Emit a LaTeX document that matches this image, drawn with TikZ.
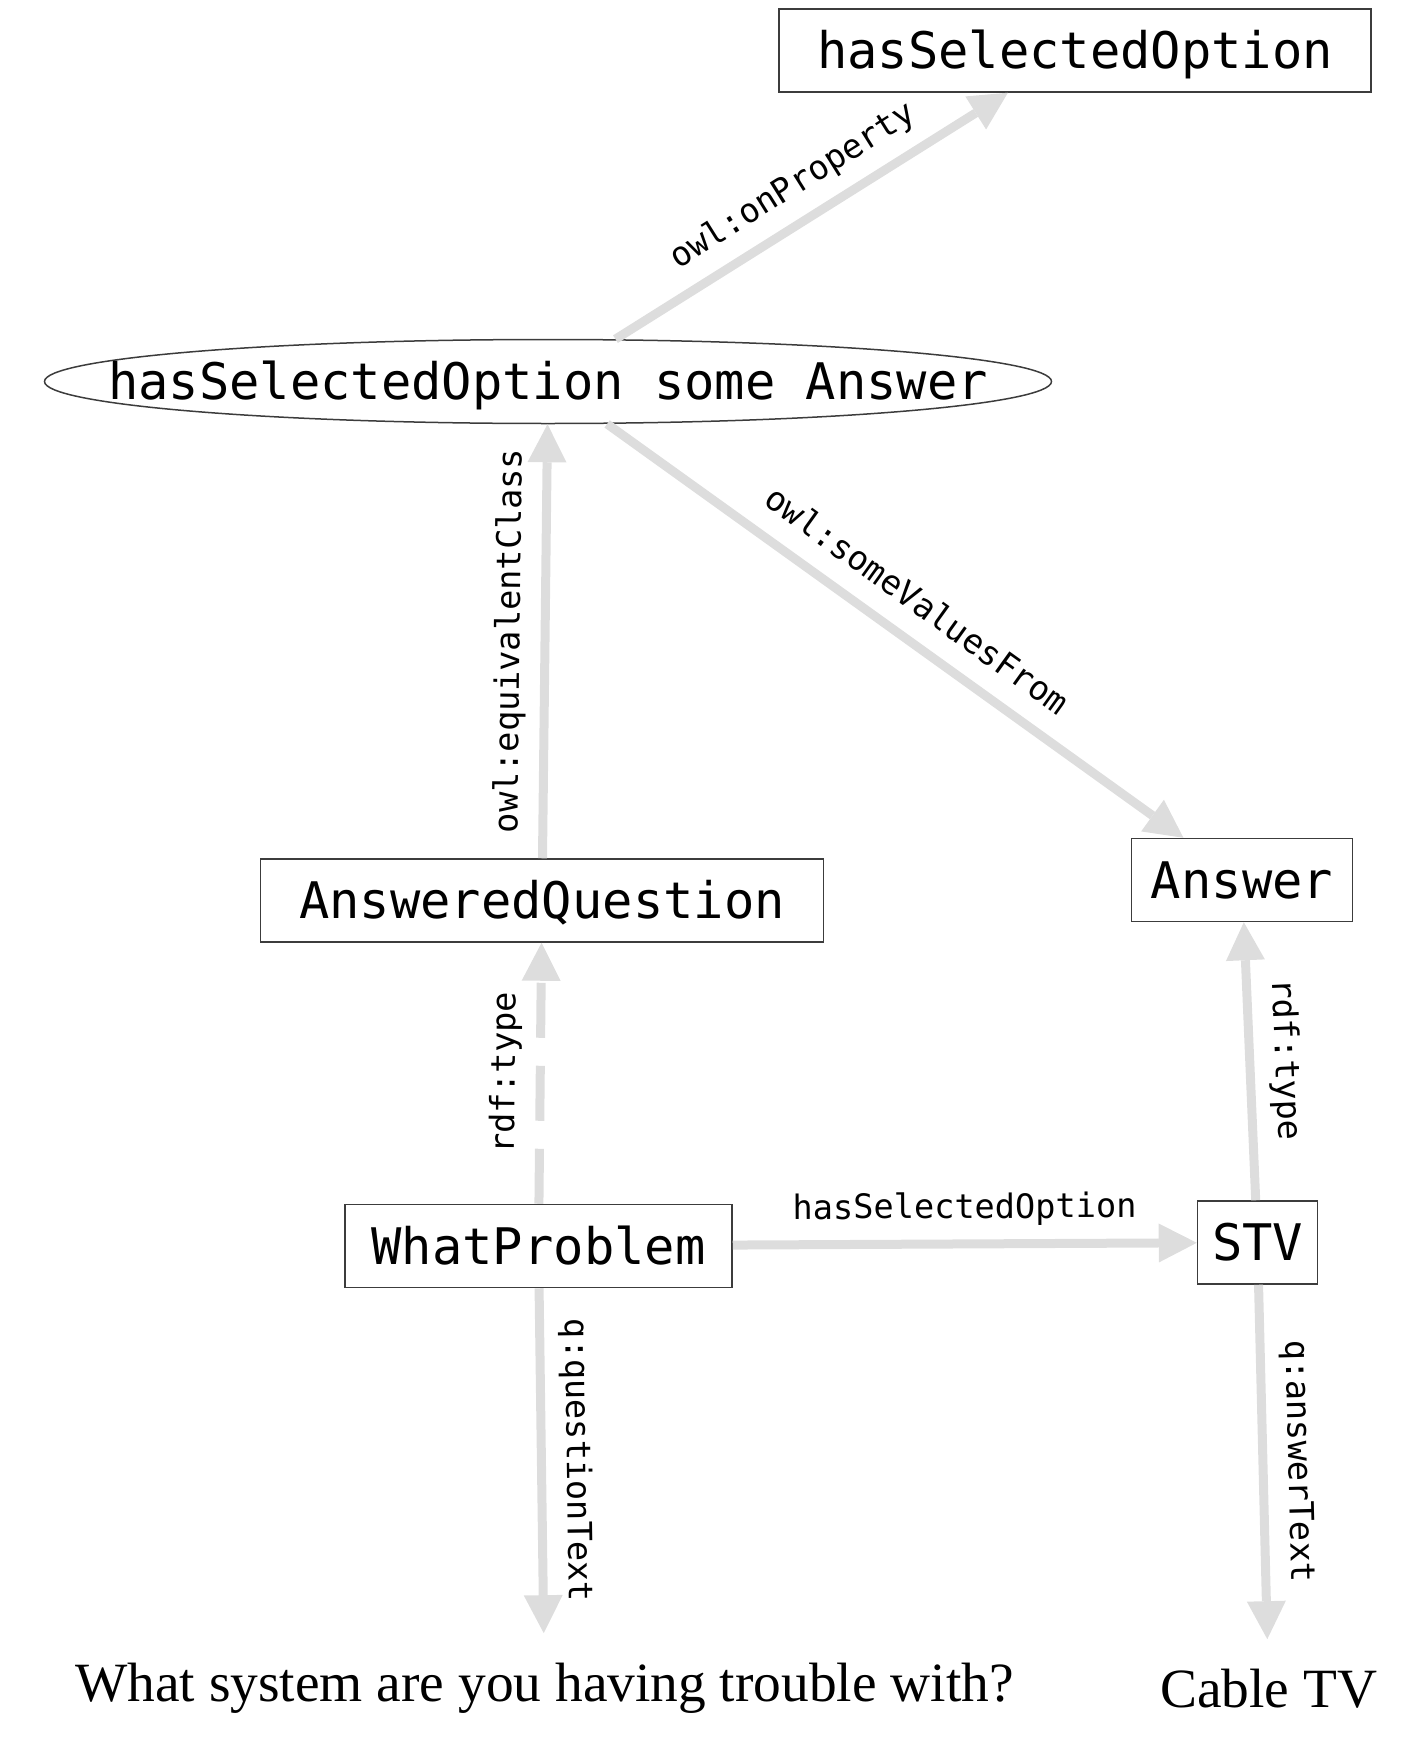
\documentclass[tikz,border=0pt]{standalone}
\usepackage{fontspec}
\setmainfont{Liberation Serif}
\newfontfamily\monofont{DejaVu Sans Mono}
\usetikzlibrary{arrows.meta,shapes.geometric,positioning}
\definecolor{edgegray}{RGB}{221,221,221}
\definecolor{framegray}{RGB}{60,60,60}

\begin{document}
\begin{tikzpicture}[
  x=0.5pt, y=-0.5pt,
  >={Triangle[length=19pt,width=19.5pt,line width=0pt]},
  termfont/.style={
    font=\monofont\fontsize{25.2pt}{30pt}\selectfont,
    text height=18.4pt,
    text depth=0pt
  },
  term/.style={
    termfont,
    draw=framegray,
    line width=0.75pt,
    minimum height=41.5pt,
    inner sep=0pt
  },
  restriction/.style={
    ellipse,
    draw=framegray,
    line width=0.75pt,
    minimum width=503.5pt,
    minimum height=42pt,
    inner sep=0pt
  },
  literal/.style={
    font=\rmfamily\fontsize{27.7pt}{33pt}\selectfont,
    inner xsep=0pt,
    inner ysep=14.5pt
  },
  link/.style={
    ->,
    draw=edgegray,
    line width=4.5pt
  },
  rel/.style={
    font=\monofont\fontsize{16.8pt}{20pt}\selectfont,
    sloped,
    above,
    inner sep=6.5pt,
    text height=12.8pt,
    text depth=4pt
  }
  ]
  \useasboundingbox (0,0) rectangle (1418,1750);

  \node [term, minimum width=193.5pt] (what) at (538.5,1246) {WhatProblem};
  \node [term, minimum width=281.5pt] (answered) [above=130.5pt of what, xshift=1.75pt] {AnsweredQuestion};
  \node [term, minimum width=60pt] (stv) [right=232pt of what, yshift=1.75pt] {STV};
  \node [term, minimum width=110.5pt] (answer) [above=139pt of stv, xshift=-7.75pt] {Answer};
  \node [term, minimum width=296pt] (prop) at (1075,50.5) {hasSelectedOption};

  \node [restriction] (restr) [above=217pt of answered, xshift=3pt] {};
  \node [termfont, inner sep=0pt] (restrtext) at (restr.center) {hasSelectedOption some Answer};

  \node [literal, anchor=base] (question) at (544.5,1701) {What system are you having trouble with?};
  \node [literal, anchor=base] (cable) at (1268.5,1707) {Cable TV};

  \path (restr) edge[link] node[rel] {owl:onProperty} (prop);
  \path (restr) edge[link] node[rel] {owl:someValuesFrom} (answer);
  \path (answered) edge[link] node[rel] {owl:equivalentClass} (restr);
  \path (what) edge[link, dash pattern=on 27.5pt off 14pt] node[rel] {rdf:type} (answered);
  \path (what) edge[link] node[rel] {hasSelectedOption} (stv);
  \path (stv) edge[link] node[rel] {rdf:type} (answer);
  \path (what) edge[link] node[rel] {q:questionText} (question);
  \path (stv) edge[link] node[rel] {q:answerText} (cable);

\end{tikzpicture}
\end{document}
